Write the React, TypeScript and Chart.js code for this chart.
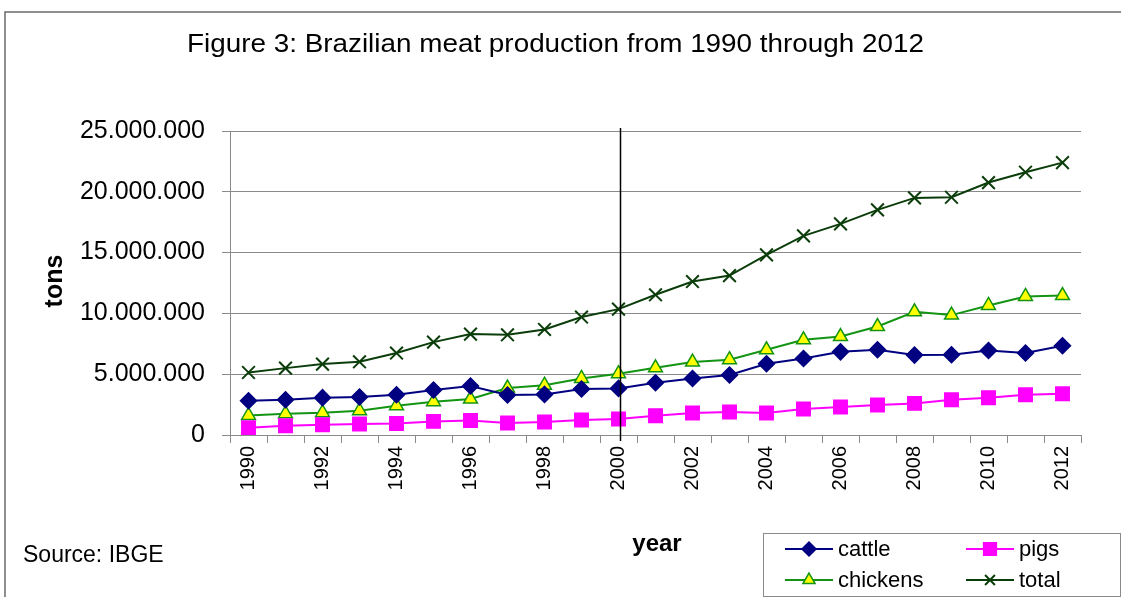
import React, { useEffect, useRef } from 'react';
import { Chart, registerables } from 'chart.js';
import { drawPoint } from 'chart.js/helpers';

Chart.register(...registerables);

const years = ['1990', '1991', '1992', '1993', '1994', '1995', '1996', '1997', '1998', '1999', '2000', '2001', '2002', '2003', '2004', '2005', '2006', '2007', '2008', '2009', '2010', '2011', '2012'];
const cattle = [2820000, 2900000, 3070000, 3120000, 3310000, 3700000, 4030000, 3290000, 3340000, 3780000, 3830000, 4300000, 4650000, 4930000, 5860000, 6290000, 6840000, 7010000, 6570000, 6600000, 6950000, 6740000, 7340000];
const pigs = [600000, 760000, 850000, 900000, 950000, 1120000, 1200000, 990000, 1070000, 1230000, 1310000, 1590000, 1810000, 1890000, 1810000, 2140000, 2300000, 2470000, 2600000, 2900000, 3070000, 3310000, 3390000];
const chickens = [1610000, 1750000, 1830000, 2000000, 2410000, 2740000, 2960000, 3860000, 4100000, 4650000, 5040000, 5530000, 6000000, 6190000, 7010000, 7830000, 8100000, 8920000, 10130000, 9860000, 10650000, 11390000, 11470000];
const total = [5140000, 5500000, 5830000, 6020000, 6740000, 7640000, 8300000, 8240000, 8680000, 9700000, 10350000, 11530000, 12620000, 13110000, 14810000, 16380000, 17360000, 18510000, 19500000, 19550000, 20760000, 21610000, 22400000];
const markerYear = '2000';
const yMax = 25000000;
const yStep = 5000000;

const TITLE = 'Figure 3: Brazilian meat production from 1990 through 2012';
const FONT = '"Liberation Sans", Arial, sans-serif';

const seriesStyles = [
  { label: 'cattle', color: '#000080', fill: '#000080', pointStyle: 'rectRot', radius: 8 },
  { label: 'pigs', color: '#ff00ff', fill: '#ff00ff', pointStyle: 'rect', radius: 9.5 },
  { label: 'chickens', color: '#139413', fill: '#ffff00', pointStyle: 'triangle', radius: 8 },
  { label: 'total', color: '#0b3d0b', fill: '#0b3d0b', pointStyle: 'crossRot', radius: 9 },
];

function fmt(v: number): string {
  return String(Math.round(v)).replace(/\B(?=(\d{3})+(?!\d))/g, '.');
}

const decorPlugin = {
  id: 'decor',
  beforeDraw(chart: any) {
    const ctx = chart.ctx;
    ctx.save();
    ctx.fillStyle = '#ffffff';
    ctx.fillRect(0, 0, chart.width, chart.height);
    ctx.strokeStyle = '#6a6a6a';
    ctx.lineWidth = 1.5;
    ctx.beginPath();
    ctx.moveTo(5, chart.height + 2);
    ctx.lineTo(5, 12);
    ctx.lineTo(chart.width + 2, 12);
    ctx.stroke();
    ctx.restore();
  },
  afterDatasetsDraw(chart: any) {
    const ctx = chart.ctx;
    const xs = chart.scales.x;
    const ys = chart.scales.y;
    ctx.save();
    // vertical marker line
    const vx = Math.round(xs.getPixelForValue(years.indexOf(markerYear))) + 1.5;
    ctx.strokeStyle = '#000000';
    ctx.lineWidth = 1.5;
    ctx.beginPath();
    ctx.moveTo(vx, ys.top - 3);
    ctx.lineTo(vx, ys.bottom + 6);
    ctx.stroke();

    ctx.fillStyle = '#000000';
    // title
    ctx.font = `26px ${FONT}`;
    ctx.textBaseline = 'alphabetic';
    ctx.textAlign = 'left';
    const tw = ctx.measureText(TITLE).width;
    const sx = 737 / tw;
    ctx.save();
    ctx.translate(555.5 - 368.5, 52);
    ctx.scale(sx, 1);
    ctx.fillText(TITLE, 0, 0);
    ctx.restore();

    // source
    ctx.font = `23px ${FONT}`;
    ctx.fillText('Source: IBGE', 23, 562);

    // year
    ctx.font = `bold 24px ${FONT}`;
    ctx.textAlign = 'center';
    ctx.fillText('year', 657, 551);

    // tons
    ctx.save();
    ctx.translate(62, 281);
    ctx.rotate(-Math.PI / 2);
    ctx.font = `bold 25px ${FONT}`;
    ctx.fillText('tons', 0, 0);
    ctx.restore();

    // legend
    ctx.strokeStyle = '#8a8a8a';
    ctx.lineWidth = 1;
    ctx.strokeRect(763.5, 533.5, 357, 63);
    const cols = [785, 966];
    const rows = [549, 580];
    ctx.font = `22px ${FONT}`;
    ctx.textAlign = 'left';
    ctx.textBaseline = 'middle';
    seriesStyles.forEach((s, i) => {
      const x0 = cols[i % 2];
      const y0 = rows[Math.floor(i / 2)];
      ctx.strokeStyle = s.color;
      ctx.lineWidth = 2;
      ctx.beginPath();
      ctx.moveTo(x0, y0);
      ctx.lineTo(x0 + 48, y0);
      ctx.stroke();
      ctx.fillStyle = s.fill;
      ctx.strokeStyle = s.color;
      ctx.lineWidth = s.pointStyle === 'crossRot' ? 2 : 1.5;
      drawPoint(ctx, { pointStyle: s.pointStyle, radius: s.pointStyle === 'rect' ? 9 : 7, rotation: 0, borderWidth: ctx.lineWidth } as any, x0 + 24, y0);
      ctx.fillStyle = '#000000';
      ctx.fillText(s.label, x0 + 53, y0 + 1);
    });
    ctx.restore();
  },
};

export default function App() {
  const ref = useRef<HTMLCanvasElement>(null);
  useEffect(() => {
    if (!ref.current) return;
    const dataSeries = [cattle, pigs, chickens, total];
    const chart = new Chart(ref.current, {
      type: 'line',
      data: {
        labels: years,
        datasets: seriesStyles.map((s, i) => ({
          label: s.label,
          data: dataSeries[i],
          borderColor: s.color,
          backgroundColor: s.fill,
          pointBackgroundColor: s.fill,
          pointBorderColor: s.color,
          pointStyle: s.pointStyle as any,
          pointRadius: s.radius,
          pointBorderWidth: s.pointStyle === 'crossRot' ? 2 : 1.5,
          borderWidth: 2,
          tension: 0,
          fill: false,
        })),
      },
      options: {
        responsive: false,
        animation: false,
        devicePixelRatio: 1,
        layout: { padding: { top: 131, right: 40, bottom: 0, left: 0 } },
        plugins: {
          legend: { display: false },
          title: { display: false },
          tooltip: { enabled: false },
        },
        scales: {
          x: {
            type: 'category',
            offset: true,
            grid: {
              offset: true,
              drawOnChartArea: false,
              drawTicks: true,
              tickLength: 8,
              color: '#8a8a8a',
            },
            border: { color: '#8a8a8a', width: 1 },
            ticks: {
              autoSkip: false,
              maxRotation: 90,
              minRotation: 90,
              padding: 3,
              color: '#000000',
              font: { family: FONT, size: 20 },
              callback: (v: any, i: number) => (i % 2 === 0 ? years[i] : ''),
            },
            afterFit: (scale: any) => {
              scale.height = 162;
            },
          },
          y: {
            min: 0,
            max: yMax,
            grid: {
              color: '#8a8a8a',
              lineWidth: 1,
              tickLength: 8,
            },
            border: { color: '#8a8a8a', width: 1 },
            ticks: {
              stepSize: yStep,
              padding: 17,
              color: '#000000',
              font: { family: FONT, size: 25 },
              callback: (v: any) => fmt(Number(v)),
            },
            afterFit: (scale: any) => {
              scale.width = 230;
            },
          },
        },
      },
      plugins: [decorPlugin],
    });
    return () => chart.destroy();
  }, []);
  return (
    <div style={{ position: 'absolute', left: 0, top: 0, width: 1121, height: 597, background: '#fff' }}>
      <canvas ref={ref} width={1121} height={597} style={{ display: 'block' }} />
    </div>
  );
}
